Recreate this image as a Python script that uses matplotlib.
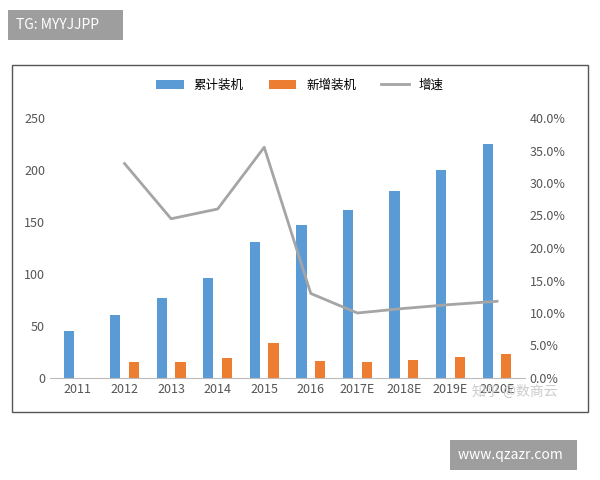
import matplotlib.pyplot as plt
from matplotlib.patches import Rectangle

plt.rcParams['font.family'] = ['Noto Sans CJK SC', 'DejaVu Sans']

years = ['2011', '2012', '2013', '2014', '2015', '2016', '2017E', '2018E', '2019E', '2020E']
cumulative = [45, 61, 77, 96, 131, 147, 162, 180, 200, 225]
new_added = [0, 15, 15, 19, 34, 16, 15, 17, 20, 23]
growth = [None, 33.0, 24.5, 26.0, 35.5, 13.0, 10.0, 10.7, 11.3, 11.8]

fig = plt.figure(figsize=(6, 4.8), dpi=100)
fig.patches.append(Rectangle((12 / 600, 1 - 412 / 480), 576 / 600, 347 / 480,
                             transform=fig.transFigure, fill=False, ec='#555555', lw=1))
ax = fig.add_axes([50 / 600, 1 - 378 / 480, 475 / 600, 260 / 480])
x = list(range(len(years)))
w = 0.22
ax.bar([i - 0.2 for i in x], cumulative, w, color='#5b9bd5', label='累计装机')
ax.bar([i + 0.2 for i in x], new_added, w, color='#ed7d31', label='新增装机')
ax.set_ylim(0, 250)
ax.set_xlim(-0.6, 9.6)
ax.set_xticks(x)
ax.set_xticklabels(years)
for s in ['top', 'right', 'left']:
    ax.spines[s].set_visible(False)
ax.spines['bottom'].set_color('#bbbbbb')
ax.tick_params(length=0, labelsize=9, colors='#555555')

ax2 = ax.twinx()
ax2.plot(x[1:], growth[1:], color='#a5a5a5', lw=2, label='增速')
ax2.set_ylim(0, 40)
ax2.set_yticks(range(0, 41, 5))
ax2.set_yticklabels([f'{v:.1f}%' for v in range(0, 41, 5)])
for s in ax2.spines.values():
    s.set_visible(False)
ax2.tick_params(length=0, labelsize=9, colors='#555555')

h1, l1 = ax.get_legend_handles_labels()
h2, l2 = ax2.get_legend_handles_labels()
fig.legend(h1 + h2, l1 + l2, loc='center', bbox_to_anchor=(300 / 600, 1 - 85 / 480),
           ncol=3, frameon=False, fontsize=9, handlelength=2.2)

fig.text(16 / 600, 1 - 25 / 480, 'TG: MYYJJPP     ', fontsize=10, color='white', va='center',
         bbox=dict(fc='#9e9e9e', ec='none', pad=6))
fig.text(458 / 600, 1 - 455 / 480, 'www.qzazr.com  ', fontsize=10, color='white', va='center',
         bbox=dict(fc='#9e9e9e', ec='none', pad=6))
fig.text(472 / 600, 1 - 392 / 480, '知乎 @数商云', fontsize=10, color='#cccccc', va='center')

fig.savefig('out.png')
